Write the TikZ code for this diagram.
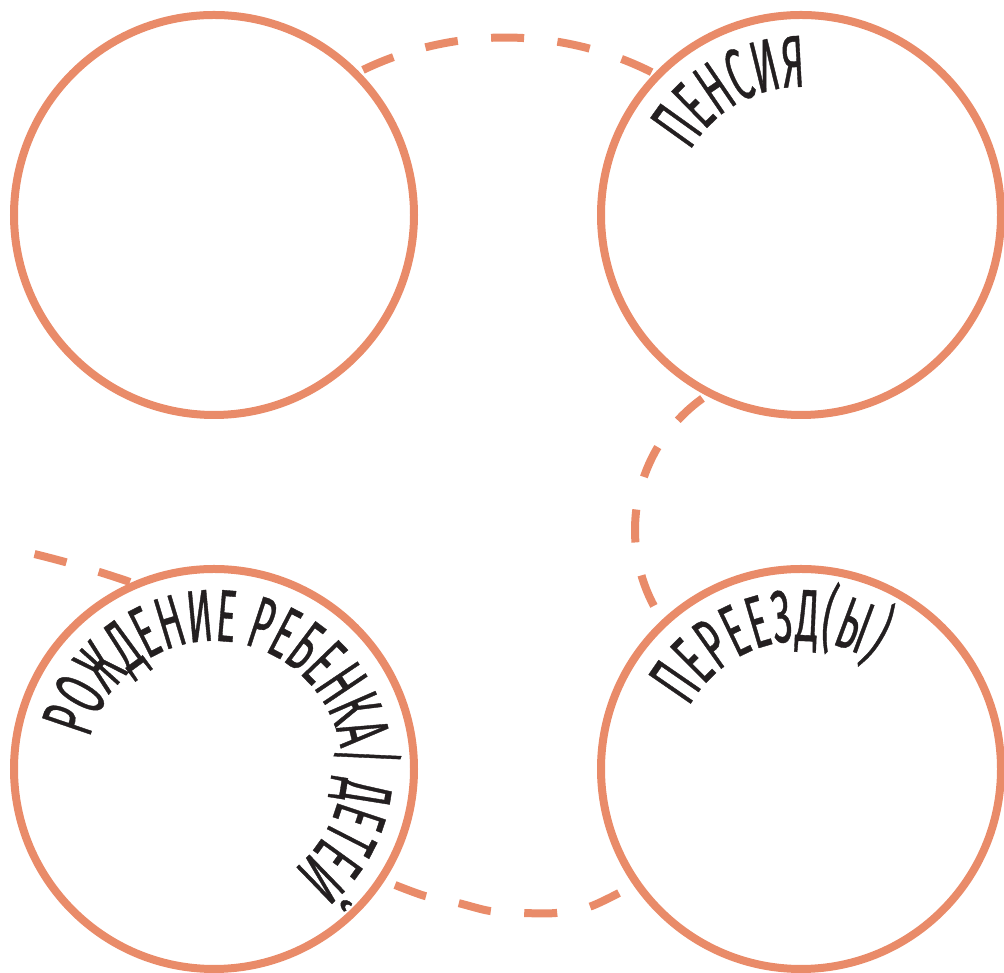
\documentclass[tikz,border=0pt]{standalone}
\usepackage{fontspec}
\newfontfamily\arcfont[FakeStretch=0.5,FakeBold=0.5]{Fira Sans}
\usetikzlibrary{decorations.text}
\definecolor{ring}{HTML}{E98B69}
\definecolor{ink}{HTML}{231F20}
\begin{document}
\begin{tikzpicture}[x=1pt,y=1pt,
  ringnode/.style={circle, draw=ring, line width=8pt, minimum size=400pt, inner sep=0pt},
  link/.style={draw=ring, line width=8pt, dash pattern=on 33pt off 33.5pt},
  arctext/.style={decorate, decoration={text along path, text align=fit to path, text color=ink,
      text={|\arcfont\fontsize{74}{80}\selectfont|#1}}}
]
\useasboundingbox (0,0) rectangle (1004,973);
% centres of the dashed links and the free end of the left link
\coordinate (topc) at (505,608);
\coordinate (rightc) at (797,443);
\coordinate (leftend) at (8,425);
% dashed links (drawn under the rings)
\draw[link] (topc) ++(115.7:327.5) arc[start angle=115.7, end angle=63.4, radius=327.5];
\draw[link] (rightc) ++(125.7:162) arc[start angle=125.7, end angle=210.7, radius=162];
\draw[link] plot[smooth] coordinates {(395,88) (425,77) (458,70) (490,62) (523,60) (556,60) (589,66) (619,80)};
\draw[link] (130,391) .. controls (92,404) and (50,416) .. (leftend);
% rings
\node[ringnode] (tl) at (214,758) {};
\node[ringnode] (tr) at (801,758) {};
\node[ringnode] (bl) at (214,204) {};
\node[ringnode] (br) at (801,204) {};
% curved labels
\path[arctext=ПЕНСИЯ] (tr.center) ++(150:128) arc[start angle=150, end angle=89, radius=128];
\path[arctext=ПЕРЕЕЗД(Ы)] (br.center) ++(151:128) arc[start angle=151, end angle=57, radius=128];
\path[arctext=РОЖДЕНИЕ РЕБЕНКА/ ДЕТЕЙ] (bl.center) ++(166:128) arc[start angle=166, end angle=-50, radius=128];
\end{tikzpicture}
\end{document}
